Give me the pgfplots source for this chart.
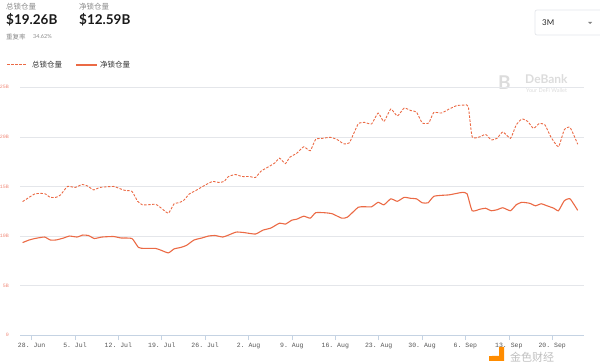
\documentclass[border=0pt]{standalone}
\usepackage{pgfplots}
\pgfplotsset{compat=1.18}
\usepackage{fontspec}
\setmainfont{Lato}
\setmonofont{Liberation Mono}
\newfontfamily\cjk{Noto Sans CJK SC}
\definecolor{lineC}{HTML}{EB6A45}
\definecolor{gridC}{HTML}{E4E6EA}
\definecolor{axisC}{HTML}{C5D3E3}
\definecolor{ylabC}{HTML}{F08A7A}
\definecolor{xlabC}{HTML}{555555}
\definecolor{headC}{HTML}{8A8A8A}
\definecolor{wmC}{HTML}{DCDCDC}
\begin{document}
\begin{tikzpicture}[x=1pt,y=1pt]
\path[use as bounding box] (0,0) rectangle (600,364);
% header
\node[anchor=west,inner sep=0,font=\cjk\fontsize{7.5}{8}\selectfont,text=headC] at (6,357) {总锁仓量};
\node[anchor=west,inner sep=0,font=\fontsize{13.5}{15}\selectfont\bfseries,text=black!90] at (6,344) {\$19.26B};
\node[anchor=west,inner sep=0,font=\cjk\fontsize{7.5}{8}\selectfont,text=headC] at (79,357) {净锁仓量};
\node[anchor=west,inner sep=0,font=\fontsize{13.5}{15}\selectfont\bfseries,text=black!90] at (79,344) {\$12.59B};
\node[anchor=west,inner sep=0,font=\cjk\fontsize{6.5}{7}\selectfont,text=headC] at (6,327) {重复率};
\node[anchor=west,inner sep=0,font=\fontsize{5.5}{6}\selectfont,text=headC] at (33,327) {34.62\%};
% dropdown
\draw[gridC,line width=0.7pt,rounded corners=2] (535,354) rectangle (603,329);
\node[anchor=west,inner sep=0,font=\fontsize{8}{9}\selectfont,text=black!85] at (542,341) {3M};
\fill[black!50] (588,342) -- (592,342) -- (590,340) -- cycle;
% legend
\draw[lineC,line width=1pt,dash pattern=on 2.5pt off 1.5pt] (7,299) -- (27,299);
\node[anchor=west,inner sep=0,font=\cjk\fontsize{7.5}{8}\selectfont,text=black!80] at (32,299) {总锁仓量};
\draw[lineC,line width=1.1pt] (76,299) -- (97,299);
\node[anchor=west,inner sep=0,font=\cjk\fontsize{7.5}{8}\selectfont,text=black!80] at (100,299) {净锁仓量};
% DeBank watermark
\node[anchor=west,inner sep=0,font=\fontsize{19}{20}\selectfont\bfseries,text=wmC] at (498,281) {B};
\node[anchor=west,inner sep=0,font=\fontsize{12}{13}\selectfont\bfseries,text=wmC] at (525,285) {DeBank};
\node[anchor=west,inner sep=0,font=\fontsize{5.5}{6}\selectfont,text=wmC] at (526,273) {Your DeFi Wallet};
\begin{axis}[
  at={(33,29)}, anchor=south west, scale only axis,
  width=564pt, height=248pt,
  xmin=-1.8, xmax=89.2, ymin=0, ymax=25,
  axis x line*=bottom, axis y line*=left,
  y axis line style={draw=none},
  x axis line style={draw=axisC,line width=0.8pt},
  ytick={0,5,10,15,20,25},
  yticklabels={0,5B,10B,15B,20B,25B},
  ytick style={draw=none},
  xtick={0,7,...,84},
  xticklabels={28. Jun,5. Jul,12. Jul,19. Jul,26. Jul,2. Aug,9. Aug,16. Aug,23. Aug,30. Aug,6. Sep,13. Sep,20. Sep},
  x tick style={draw=axisC,line width=0.6pt},
  tick align=outside, major tick length=5pt,
  xticklabel style={font=\ttfamily\fontsize{6.5}{7}\selectfont,text=xlabC,yshift=1pt},
  yticklabel style={font=\ttfamily\fontsize{5}{6}\selectfont,text=ylabC,xshift=-3pt},
  ymajorgrids, grid style={draw=gridC,line width=0.6pt},
  clip=false,
]
\addplot[lineC,line width=0.9pt,dash pattern=on 2.5pt off 1.5pt,smooth,tension=0.3] coordinates {
(-1.45,13.47)(-0.40,13.90)(0.53,14.25)(1.46,14.30)(2.20,14.25)(3.01,13.90)(3.93,13.90)(4.68,14.15)
(5.79,15.00)(7.03,14.90)(8.14,15.20)(9.01,15.05)(10.00,14.65)(11.05,14.90)(13.22,15.00)(14.14,14.80)
(15.07,14.60)(16.19,14.50)(17.11,13.50)(17.86,13.15)(18.79,13.15)(20.02,13.20)(20.95,12.80)(22.07,12.30)
(22.99,13.25)(23.74,13.35)(24.54,13.60)(25.47,14.25)(26.52,14.60)(27.76,15.05)(29.18,15.50)(30.23,15.40)
(31.04,15.50)(31.78,16.00)(32.89,16.20)(33.95,16.00)(35.18,16.00)(36.11,15.90)(37.04,16.55)(38.28,17.00)
(39.21,17.35)(40.01,17.85)(40.94,17.30)(41.68,17.95)(42.80,18.35)(43.91,19.00)(44.96,18.60)(45.83,19.75)
(46.94,19.85)(48.18,19.95)(49.23,19.75)(50.35,19.30)(51.27,19.40)(52.70,21.30)(53.75,21.45)(54.86,21.30)
(55.91,22.40)(56.84,21.55)(57.96,22.80)(59.01,22.10)(60.12,22.90)(61.17,22.65)(62.10,22.50)(63.03,21.40)
(64.08,21.40)(64.88,22.45)(66.12,22.40)(67.36,22.80)(68.60,23.15)(69.84,23.20)(70.46,23.05)(71.08,20.00)
(72.31,20.00)(73.24,20.25)(74.17,19.70)(75.10,19.85)(76.03,20.50)(77.27,19.85)(78.19,21.20)(79.12,21.80)
(80.05,21.55)(80.98,20.85)(81.92,21.35)(82.84,21.20)(83.77,20.00)(85.01,19.00)(85.94,20.70)(86.88,20.95)
(88.11,19.26)
};
\addplot[lineC,line width=1.1pt,smooth,tension=0.3] coordinates {
(-1.45,9.34)(-0.40,9.60)(0.53,9.75)(2.08,9.90)(3.01,9.60)(3.93,9.60)(5.17,9.80)(6.10,10.00)
(7.34,9.90)(8.27,10.10)(9.19,10.05)(10.12,9.75)(11.36,9.90)(13.22,9.95)(14.45,9.80)(16.19,9.75)
(17.24,8.85)(18.17,8.75)(20.02,8.75)(20.95,8.55)(22.07,8.30)(22.99,8.70)(24.05,8.85)(24.97,9.05)
(26.21,9.60)(27.45,9.80)(28.56,10.00)(29.61,10.05)(30.85,9.90)(31.78,10.10)(33.02,10.40)(34.26,10.35)
(36.11,10.20)(37.35,10.60)(38.59,10.80)(40.01,11.30)(40.94,11.20)(41.99,11.60)(42.80,11.70)(43.91,12.00)
(44.96,11.80)(45.83,12.35)(47.25,12.35)(48.49,12.25)(50.04,11.80)(50.96,11.90)(52.70,12.90)(53.75,12.95)
(54.86,12.95)(55.91,13.40)(56.84,13.15)(57.96,13.75)(59.01,13.50)(60.12,13.90)(61.17,13.80)(62.10,13.75)
(63.03,13.35)(63.96,13.35)(64.88,14.00)(66.12,14.10)(67.36,14.15)(68.60,14.30)(69.53,14.40)(70.27,14.25)
(71.08,12.55)(72.31,12.70)(73.24,12.80)(74.17,12.55)(75.10,12.65)(76.03,12.85)(77.27,12.55)(78.19,13.15)
(79.12,13.40)(80.36,13.30)(81.29,13.05)(82.22,13.25)(83.15,13.05)(84.27,12.80)(85.01,12.55)(85.94,13.55)
(86.88,13.75)(88.11,12.59)
};
\end{axis}
% jinse watermark (kept below the tick labels)
\fill[orange!90!yellow] (489,3) rectangle (494,8);
\fill[orange!90!yellow] (492,3) -- (504,3) -- (504,17) -- (499,17) -- (499,8) -- (492,8) -- cycle;
\node[anchor=west,inner sep=0,font=\cjk\fontsize{11}{12}\selectfont,text=black!25] at (510,7) {金色财经};
\end{tikzpicture}
\end{document}
